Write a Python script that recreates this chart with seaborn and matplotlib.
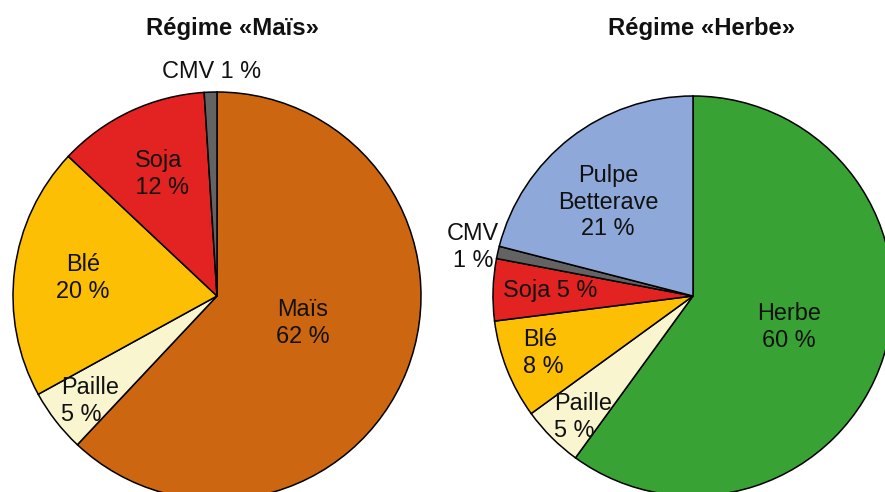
import matplotlib
matplotlib.use("Agg")
import matplotlib.pyplot as plt
import seaborn as sns

sns.set_theme(style="white")
plt.rcParams['font.family'] = ['Liberation Sans', 'DejaVu Sans']

# Data
mais_labels = ["Maïs", "Paille", "Blé", "Soja", "CMV"]
mais_values = [62, 5, 20, 12, 1]
herbe_labels = ["Herbe", "Paille", "Blé", "Soja", "CMV", "Pulpe Betterave"]
herbe_values = [60, 5, 8, 5, 1, 21]

color_map = {
    "Maïs": "#CC6610",
    "Paille": "#F9F6CF",
    "Blé": "#FCBF04",
    "Soja": "#E32322",
    "CMV": "#636363",
    "Herbe": "#38A235",
    "Pulpe Betterave": "#8EA9D9",
}

W, H = 885, 492
fig = plt.figure(figsize=(W / 100, H / 100), dpi=100)
fig.patch.set_facecolor("white")


def make_ax(cx, cy, r):
    ax = fig.add_axes([(cx - r) / W, (H - cy - r) / H, 2 * r / W, 2 * r / H])
    return ax


def draw_pie(ax, labels, values):
    pal = sns.color_palette([color_map[l] for l in labels])
    ax.pie(values, colors=pal, startangle=90, counterclock=False,
           radius=1.0, wedgeprops=dict(edgecolor="black", linewidth=1.1))
    ax.set_xlim(-1, 1)
    ax.set_ylim(-1, 1)
    ax.set_aspect("auto")
    ax.axis("off")


FS = 16.9
TFS = 17.2

# Left pie
cx, cy, r = 217, 296, 204
axL = make_ax(cx, cy, r)
draw_pie(axL, mais_labels, mais_values)


def put(ax, cx, cy, r, px, py, txt, ha="center"):
    ax.text((px - cx) / r, (cy - py) / r, txt, ha=ha, va="center",
            fontsize=FS, color="#111111", linespacing=1.18,
            multialignment=ha, clip_on=False)


put(axL, cx, cy, r, 212, 71, f"CMV {mais_values[4]} %")
put(axL, cx, cy, r, 159, 174, f"Soja\n {mais_values[3]} %")
put(axL, cx, cy, r, 83, 278, f"Blé\n{mais_values[2]} %")
put(axL, cx, cy, r, 61, 401, f"Paille\n{mais_values[1]} %", ha="left")
put(axL, cx, cy, r, 303, 323, f"Maïs\n{mais_values[0]} %")
fig.text(232 / W, 1 - 28 / H, "Régime «Maïs»", ha="center", va="center",
         fontsize=TFS, fontweight="bold", color="#111111")

# Right pie
cx, cy, r = 693, 296, 200
axR = make_ax(cx, cy, r)
draw_pie(axR, herbe_labels, herbe_values)
put(axR, cx, cy, r, 608, 202, f"Pulpe\nBetterave\n{herbe_values[5]} %")
put(axR, cx, cy, r, 473, 247, f"CMV\n{herbe_values[4]} %")
put(axR, cx, cy, r, 550, 291, f"Soja {herbe_values[3]} %")
put(axR, cx, cy, r, 523, 353, f"Blé\n{herbe_values[2]} %", ha="left")
put(axR, cx, cy, r, 554, 417, f"Paille\n{herbe_values[1]} %", ha="left")
put(axR, cx, cy, r, 789, 327, f"Herbe\n{herbe_values[0]} %")
fig.text(702 / W, 1 - 29 / H, "Régime «Herbe»", ha="center", va="center",
         fontsize=TFS, fontweight="bold", color="#111111")

fig.savefig("out.png", dpi=100, facecolor="white")
